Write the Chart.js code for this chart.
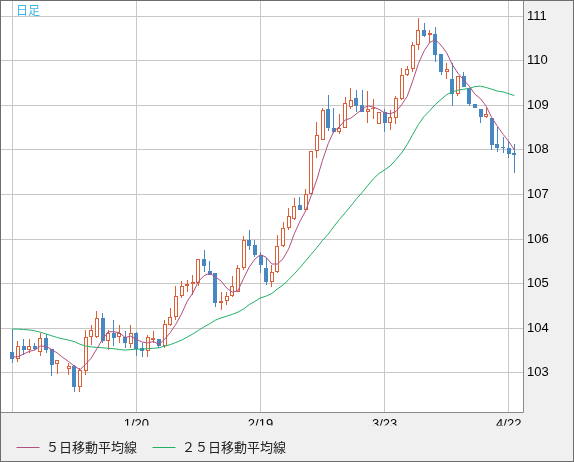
<!DOCTYPE html>
<html><head><meta charset="utf-8">
<script src="https://cdn.jsdelivr.net/npm/chart.js@4.4.1/dist/chart.umd.min.js"></script>
<style>html,body{margin:0;padding:0;background:#f0f0f0;overflow:hidden}canvas{display:block}</style>
</head><body>
<canvas id="c" width="574" height="462"></canvas>
<script>
const periodLabel = '日足';
const ma5Label = '５日移動平均線';
const ma25Label = '２５日移動平均線';

const dates = ['12/21','12/22','12/23','12/24','12/25','12/28','12/29','12/30','12/31','1/1',
'1/4','1/5','1/6','1/7','1/8','1/11','1/12','1/13','1/14','1/15',
'1/18','1/19','1/20','1/21','1/22','1/25','1/26','1/27','1/28','1/29',
'2/1','2/2','2/3','2/4','2/5','2/8','2/9','2/10','2/11','2/12',
'2/15','2/16','2/17','2/18','2/19','2/22','2/23','2/24','2/25','2/26',
'3/1','3/2','3/3','3/4','3/5','3/8','3/9','3/10','3/11','3/12',
'3/15','3/16','3/17','3/18','3/19','3/22','3/23','3/24','3/25','3/26',
'3/29','3/30','3/31','4/1','4/2','4/5','4/6','4/7','4/8','4/9',
'4/12','4/13','4/14','4/15','4/16','4/19','4/20','4/21','4/22','4/23'];

const openP = [103.47,103.30,103.60,103.51,103.60,103.47,103.79,103.53,103.19,null,
103.08,103.16,102.67,103.03,103.80,103.81,104.23,103.72,103.90,103.80,
103.80,103.65,103.90,103.55,103.48,103.74,103.75,103.60,104.07,104.26,
104.73,104.95,105.00,105.01,105.55,105.29,105.24,104.56,104.60,104.73,
104.82,105.35,105.98,105.87,105.64,105.34,105.04,105.26,105.84,106.24,
106.46,106.76,106.66,107.00,107.97,108.23,108.92,108.50,108.40,108.50,
108.97,109.16,109.01,108.84,108.91,108.58,108.85,108.60,108.72,109.14,
109.68,109.81,110.35,110.69,110.57,110.60,110.15,109.74,109.60,109.25,
109.66,109.38,109.04,108.92,108.73,108.71,108.13,108.07,108.05,107.94];

const highP = [103.98,103.72,103.75,103.75,103.66,103.89,103.88,103.53,103.29,null,
103.22,103.17,103.10,103.96,104.08,104.39,104.34,103.96,104.19,104.08,
103.93,104.07,103.92,103.66,103.85,103.93,103.75,104.19,104.45,104.94,
105.05,105.09,105.20,105.55,105.76,105.50,105.24,104.82,104.82,105.18,
105.42,106.06,106.21,105.98,105.72,105.57,105.42,106.09,106.39,106.69,
106.91,106.95,107.13,107.97,108.63,108.93,109.23,108.94,108.80,109.18,
109.39,109.34,109.34,109.33,109.14,108.85,108.91,108.90,109.20,109.83,
109.88,110.43,110.95,110.84,110.70,110.76,110.15,109.94,109.94,109.66,
109.75,109.38,109.04,108.92,108.93,108.71,108.52,108.28,108.19,108.13];

const lowP = [103.23,103.25,103.40,103.44,103.51,103.38,103.44,102.92,102.98,null,
102.95,102.57,102.57,102.95,103.62,103.77,103.66,103.51,103.59,103.66,
103.55,103.55,103.38,103.36,103.36,103.66,103.55,103.55,104.05,104.19,
104.67,104.82,104.75,104.94,105.27,105.20,104.47,104.40,104.52,104.71,
104.82,105.31,105.76,105.60,105.23,104.97,104.92,105.23,105.83,106.20,
106.43,106.66,106.65,106.99,107.81,108.22,108.42,108.37,108.35,108.50,
108.91,108.84,108.86,108.61,108.69,108.58,108.40,108.45,108.58,109.12,
109.66,109.75,110.25,110.54,110.39,109.98,109.68,109.59,108.99,109.22,
109.40,108.99,108.93,108.60,108.71,108.00,107.96,107.94,107.81,107.48];

const closeP = [103.30,103.59,103.51,103.60,103.54,103.77,103.51,103.17,103.29,null,
103.15,102.67,103.06,103.80,103.96,104.23,103.72,103.90,103.77,103.89,
103.66,103.89,103.53,103.48,103.80,103.78,103.60,104.09,104.25,104.73,
104.94,105.00,105.03,105.55,105.39,105.20,104.56,104.61,104.73,104.94,
105.35,105.98,105.85,105.64,105.42,105.04,105.25,105.84,106.24,106.52,
106.75,106.66,107.00,107.97,108.34,108.90,108.49,108.40,108.50,109.06,
109.12,108.99,108.86,108.91,108.94,108.85,108.60,108.74,109.17,109.68,
109.81,110.35,110.70,110.56,110.63,110.13,109.75,109.81,109.25,109.66,
109.40,109.03,108.93,108.73,108.81,108.12,108.05,108.05,107.91,107.88];

const ma5 = [103.35,103.36,103.42,103.48,103.51,103.60,103.59,103.52,103.44,103.34,
103.25,103.15,103.07,103.19,103.33,103.54,103.75,103.92,103.92,103.90,
103.79,103.82,103.75,103.69,103.67,103.70,103.64,103.75,103.90,104.09,
104.32,104.60,104.79,105.05,105.18,105.23,105.15,105.06,104.90,104.81,
104.84,105.12,105.37,105.55,105.65,105.59,105.44,105.44,105.56,105.78,
106.12,106.40,106.63,106.98,107.34,107.77,108.14,108.42,108.52,108.67,
108.71,108.81,108.91,108.99,108.96,108.91,108.83,108.81,108.86,109.01,
109.20,109.55,109.94,110.22,110.41,110.47,110.35,110.18,109.91,109.72,
109.57,109.43,109.25,109.15,108.98,108.72,108.53,108.35,108.19,108.00];

const ma25 = [103.98,103.98,103.97,103.96,103.94,103.91,103.87,103.83,103.79,103.76,
103.73,103.70,103.64,103.60,103.58,103.57,103.56,103.55,103.54,103.52,
103.51,103.52,103.53,103.53,103.54,103.55,103.56,103.60,103.63,103.68,
103.73,103.80,103.87,103.95,104.03,104.10,104.18,104.23,104.27,104.31,
104.36,104.43,104.53,104.60,104.68,104.72,104.78,104.88,104.97,105.09,
105.22,105.36,105.51,105.66,105.81,105.97,106.11,106.28,106.44,106.59,
106.74,106.90,107.04,107.20,107.35,107.47,107.55,107.64,107.78,107.93,
108.12,108.35,108.57,108.75,108.88,109.02,109.13,109.24,109.30,109.34,
109.36,109.38,109.42,109.43,109.40,109.36,109.32,109.30,109.26,109.22];

const xTickIdx = [0, 22, 44, 66, 88];
const xTickLabels = ['', '1/20', '2/19', '3/23', '4/22'];
const yTicks = [103, 104, 105, 106, 107, 108, 109, 110, 111];

const COL = { up: '#dc5f38', down: '#4788c2', ma5: '#b14f82', ma25: '#22b067', grid: '#c8c8c8' };

const idx = dates.map((d, i) => i).filter(i => openP[i] != null);
const isUp = i => closeP[i] >= openP[i];

const frame = {
  id: 'frame',
  beforeDraw(chart) {
    const { ctx, chartArea: a } = chart;
    ctx.save();
    ctx.fillStyle = '#f0f0f0';
    ctx.fillRect(0, 0, chart.width, chart.height);
    ctx.fillStyle = '#ffffff';
    ctx.fillRect(a.left, a.top, a.right - a.left, a.bottom - a.top);
    ctx.restore();
  },
  beforeDatasetsDraw(chart) {
    // snap candle bars to the pixel grid for crisp edges
    [2, 3].forEach(di => {
      const meta = chart.getDatasetMeta(di);
      meta.data.forEach(el => {
        const w = Math.round(el.width);
        el.x = Math.round(el.x - w / 2) + w / 2;
        let top = Math.round(el.y), base = Math.round(el.base);
        if (base - top < 1) base = top + 1;
        el.y = top; el.base = base; el.height = base - top;
      });
    });
  },
  afterDraw(chart) {
    const { ctx, chartArea: a } = chart;
    ctx.save();
    ctx.lineWidth = 1;
    ctx.strokeStyle = '#8a8a8a';
    const r = Math.round(a.right) + 0.5, b = Math.round(a.bottom) + 0.5;
    ctx.beginPath();
    ctx.moveTo(r, 0); ctx.lineTo(r, b); ctx.lineTo(0, b);
    ctx.stroke();
    ctx.strokeStyle = '#6e6e6e';
    ctx.strokeRect(0.5, 0.5, chart.width - 1, chart.height - 1);
    ctx.font = '12px "Noto Sans CJK JP"';
    ctx.fillStyle = '#38b6ea';
    ctx.textBaseline = 'middle';
    ctx.textAlign = 'left';
    ctx.fillText(periodLabel, 16, 10.5);
    ctx.restore();
  }
};

new Chart(document.getElementById('c'), {
  type: 'bar',
  data: {
    datasets: [
      { type: 'line', label: ma5Label, data: ma5.map((v, i) => ({ x: i, y: v })),
        borderColor: COL.ma5, backgroundColor: COL.ma5, borderWidth: 1, pointRadius: 0, tension: 0, order: 0 },
      { type: 'line', label: ma25Label, data: ma25.map((v, i) => ({ x: i, y: v })),
        borderColor: COL.ma25, backgroundColor: COL.ma25, borderWidth: 1, pointRadius: 0, tension: 0, order: 1 },
      { type: 'bar', label: 'body',
        data: idx.map(i => ({ x: i, y: [Math.min(openP[i], closeP[i]), Math.max(openP[i], closeP[i])] })),
        backgroundColor: idx.map(i => isUp(i) ? '#ffffff' : COL.down),
        borderColor: idx.map(i => isUp(i) ? COL.up : COL.down),
        borderWidth: 1, borderSkipped: false, inflateAmount: 0, grouped: false,
        categoryPercentage: 1, barPercentage: 1, maxBarThickness: 4, order: 2 },
      { type: 'bar', label: 'wick',
        data: idx.map(i => ({ x: i, y: [lowP[i], highP[i]] })),
        backgroundColor: idx.map(i => isUp(i) ? COL.up : COL.down),
        borderWidth: 0, borderSkipped: false, inflateAmount: 0, grouped: false,
        categoryPercentage: 1, barPercentage: 1, maxBarThickness: 1, order: 3 }
    ]
  },
  options: {
    responsive: false,
    devicePixelRatio: 1,
    animation: false,
    events: [],
    layout: { padding: { top: 1, left: 1, right: 1, bottom: -2 } },
    scales: {
      x: {
        type: 'linear', min: -2.0, max: 90.53, offset: false,
        afterBuildTicks: s => { s.ticks = xTickIdx.map(v => ({ value: v })); },
        afterFit: s => { s.height = 13.5; s.paddingLeft = 0; s.paddingRight = 0; },
        grid: { color: COL.grid, lineWidth: 1, drawTicks: false, offset: false },
        border: { display: false },
        ticks: {
          padding: 5, autoSkip: false, maxRotation: 0, minRotation: 0, color: '#000',
          font: { family: '"Liberation Sans"', size: 13 },
          callback: v => { const k = xTickIdx.indexOf(v); return k >= 0 ? xTickLabels[k] : ''; }
        }
      },
      y: {
        type: 'linear', position: 'right', min: 102.12, max: 111.34,
        afterBuildTicks: s => { s.ticks = yTicks.map(v => ({ value: v })); },
        afterFit: s => { s.width = 50; s.paddingTop = 0; s.paddingBottom = 0; },
        grid: { color: COL.grid, lineWidth: 1, drawTicks: false },
        border: { display: false },
        ticks: {
          padding: 4, color: '#000',
          font: { family: '"Liberation Sans"', size: 13 },
          callback: v => String(v)
        }
      }
    },
    plugins: {
      tooltip: { enabled: false },
      legend: {
        position: 'bottom', align: 'start',
        labels: {
          usePointStyle: true, pointStyle: 'line', pointStyleWidth: 23, padding: 15.5,
          color: '#222', font: { family: '"Noto Sans CJK JP"', size: 13 },
          filter: item => item.datasetIndex < 2
        }
      }
    }
  },
  plugins: [frame]
});
</script>
</body></html>
